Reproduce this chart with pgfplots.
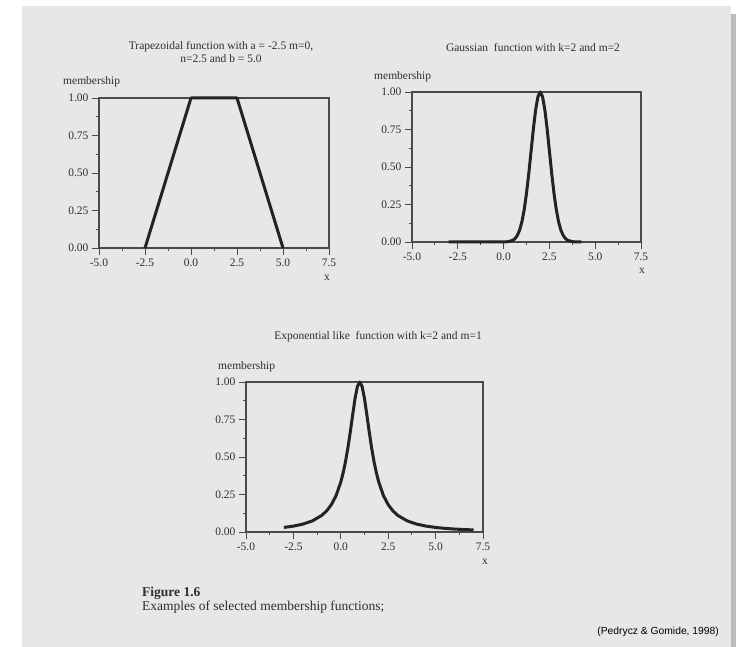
\documentclass[border=0pt]{standalone}
\usepackage{fontspec}
\setmainfont{Liberation Serif}
\newfontfamily\arial{Liberation Sans}
\usepackage{pgfplots}
\pgfplotsset{compat=1.18}

\definecolor{page}{HTML}{E7E7E7}
\definecolor{shadow}{HTML}{BDBDBD}
\definecolor{curve}{HTML}{232323}
\definecolor{axisgray}{HTML}{4A4A4A}
\definecolor{ink}{HTML}{2E2E2E}

\pgfplotsset{
  memb/.style={
    scale only axis,
    height=150bp,
    anchor=south west,
    xmin=-5, xmax=7.5, ymin=0, ymax=1,
    xtick={-5,-2.5,0,2.5,5,7.5},
    xticklabels={-5.0,-2.5,0.0,2.5,5.0,7.5},
    ytick={0,0.25,0.5,0.75,1},
    yticklabels={0.00,0.25,0.50,0.75,1.00},
    minor tick num=1,
    tick align=outside,
    tick pos=left,
    major tick length=7bp,
    minor tick length=3.5bp,
    axis line style={draw=axisgray,line width=1.1bp},
    every tick/.style={draw=axisgray,line width=0.9bp},
    tick label style={font=\fontsize{11.5bp}{13bp}\selectfont,text=ink},
    clip=false
  },
  mcurve/.style={draw=curve,line width=3bp,line join=round,mark=none}
}
\newcommand{\lab}{\fontsize{11.5bp}{13bp}\selectfont}

\begin{document}
\begin{tikzpicture}[x=1bp,y=1bp]
\useasboundingbox (0,0) rectangle (736,647);
\fill[white] (0,0) rectangle (736,647);
\fill[page] (22,0) rectangle (731,641);
\fill[shadow] (731,0) rectangle (736,633);

% trapezoid
\begin{axis}[memb,width=230bp,at={(99bp,399bp)}]
\addplot[mcurve] coordinates {(-2.5,0) (0,1) (2.5,1) (5,0)};
\end{axis}

% gaussian k=2, m=2
\begin{axis}[memb,width=229bp,at={(412bp,405bp)}]
\addplot[mcurve] coordinates {
(-3,0) (-2,0) (-1,0) (-0.5,0.0001) (0,0.0003) (0.25,0.0022) (0.5,0.0111)
(0.625,0.0228) (0.75,0.0439) (0.875,0.0796) (1,0.1353) (1.125,0.2163)
(1.25,0.3247) (1.375,0.4578) (1.5,0.6065) (1.625,0.7548) (1.75,0.8825)
(1.875,0.9692) (2,1) (2.125,0.9692) (2.25,0.8825) (2.375,0.7548)
(2.5,0.6065) (2.625,0.4578) (2.75,0.3247) (2.875,0.2163) (3,0.1353)
(3.125,0.0796) (3.25,0.0439) (3.375,0.0228) (3.5,0.0111) (3.75,0.0022)
(4,0.0003) (4.25,0)};
\end{axis}

% exponential-like k=2, m=1
\begin{axis}[memb,width=237bp,at={(246bp,115bp)}]
\addplot[mcurve] coordinates {
(-3,0.0303) (-2.5,0.0392) (-2,0.0526) (-1.5,0.0741) (-1,0.1111)
(-0.75,0.1404) (-0.5,0.1818) (-0.25,0.2424) (0,0.3333) (0.125,0.3951)
(0.25,0.4706) (0.375,0.5614) (0.5,0.6667) (0.625,0.7805) (0.75,0.8889)
(0.875,0.9697) (1,1) (1.125,0.9697) (1.25,0.8889) (1.375,0.7805)
(1.5,0.6667) (1.625,0.5614) (1.75,0.4706) (1.875,0.3951) (2,0.3333)
(2.25,0.2424) (2.5,0.1818) (2.75,0.1404) (3,0.1111) (3.5,0.0741)
(4,0.0526) (4.5,0.0392) (5,0.0303) (5.5,0.0241) (6,0.0196)
(6.5,0.0163) (7,0.0137)};
\end{axis}

% titles and labels
\begin{scope}[every node/.style={text=ink,inner sep=0pt,font=\lab}]
\node[align=center] at (221,595) {Trapezoidal function with a = -2.5 m=0,\\ n=2.5 and b = 5.0};
\node[anchor=west] at (63,565) {membership};
\node at (327,369) {x};

\node at (533,599) {Gaussian\ \ function with k=2 and m=2};
\node[anchor=west] at (374,570) {membership};
\node at (642,376) {x};

\node at (378,310) {Exponential like\ \ function with k=2 and m=1};
\node[anchor=west] at (218,280) {membership};
\node at (485,85) {x};

\node[anchor=west,font=\fontsize{13.5bp}{15bp}\bfseries] at (142,54) {Figure 1.6};
\node[anchor=west,font=\fontsize{13.5bp}{15bp}\selectfont] at (142,40) {Examples of selected membership functions;};
\node[anchor=east,font=\arial\fontsize{10.3bp}{12bp}\selectfont,text=black] at (719,15) {(Pedrycz \& Gomide, 1998)};
\end{scope}
\end{tikzpicture}
\end{document}
